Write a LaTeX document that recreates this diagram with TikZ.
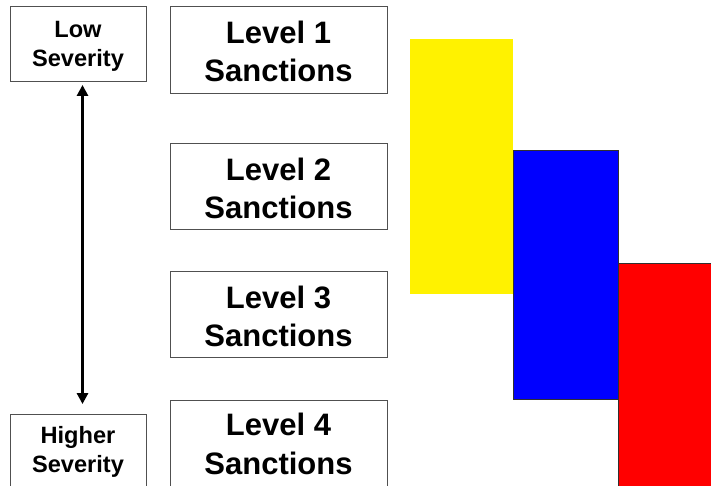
\documentclass[tikz,border=0pt]{standalone}
\usepackage{fontspec}
\setmainfont{Liberation Sans}
\usetikzlibrary{arrows.meta}
\definecolor{boxgray}{HTML}{505050}
\definecolor{edgegray}{HTML}{303030}
\tikzset{
  box/.style={draw=boxgray, line width=0.9pt, fill=none, inner sep=0pt, rectangle},
  bigtxt/.style={font=\fontsize{31}{38.5}\selectfont\bfseries, align=center, inner sep=0pt},
  smalltxt/.style={font=\fontsize{23.6}{29.5}\selectfont\bfseries, align=center, inner sep=0pt},
  bar/.style={draw=edgegray, line width=0.9pt, inner sep=0pt, rectangle},
  sevarrow/.style={line width=3pt, {Triangle[width=11pt,length=11pt]}-{Triangle[width=11pt,length=11pt]}}
}
\begin{document}
\begin{tikzpicture}[x=1pt,y=-1pt]
\useasboundingbox (0,0) rectangle (711,485);
\fill[white] (0,0) rectangle (711,485);
\clip (0,0) rectangle (711,485);
% severity boxes
\node[box, minimum width=136pt, minimum height=75pt] (low) at (78,43.5) {};
\node[smalltxt] (lowt) at (78,46.5) {Low\\Severity};
\node[box, minimum width=136pt, minimum height=86pt] (high) at (78,457) {};
\node[smalltxt] (hight) at (78,452) {Higher\\Severity};
% level boxes
\node[box, minimum width=217pt, minimum height=87pt] (l1) at (278.5,49.5) {};
\node[bigtxt] (l1t) at (278.5,51.3) {Level 1\\Sanctions};
\node[box, minimum width=217pt, minimum height=86pt] (l2) at (278.5,186) {};
\node[bigtxt] (l2t) at (278.5,188.3) {Level 2\\Sanctions};
\node[box, minimum width=217pt, minimum height=86pt] (l3) at (278.5,314) {};
\node[bigtxt] (l3t) at (278.5,316.3) {Level 3\\Sanctions};
\node[box, minimum width=217pt, minimum height=100pt] (l4) at (278.5,450) {};
\node[bigtxt] (l4t) at (278.5,444) {Level 4\\Sanctions};
% arrow
\draw[sevarrow] ([xshift=4.5pt,yshift=-3.5pt]low.south) -- ([xshift=4.5pt,yshift=9.5pt]high.north);
% colour bars
\node[rectangle, fill=yellow, draw=none, inner sep=0pt, minimum width=103pt, minimum height=255pt] (ybar) at (461.5,166.5) {};
\node[bar, fill=blue, minimum width=105pt, minimum height=249pt] (bbar) at (565.5,274.5) {};
\node[bar, fill=red, minimum width=110pt, minimum height=240pt] (rbar) at (673,383) {};
\end{tikzpicture}
\end{document}
